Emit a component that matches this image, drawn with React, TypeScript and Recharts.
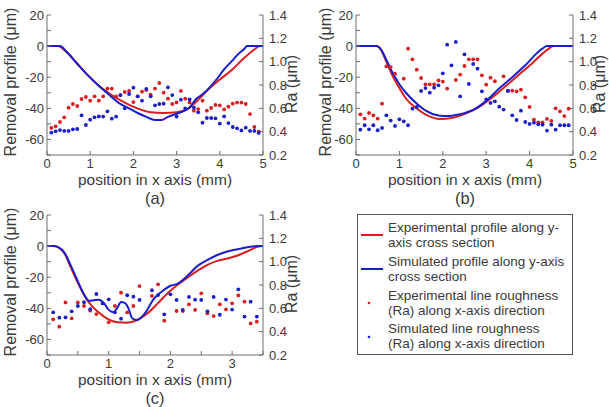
import React from "react";
import { ComposedChart, Line, Scatter, XAxis, YAxis } from "recharts";

// removal profile lines, (a)
const A_EXP_X = [0, 0.25, 0.46, 0.69, 0.92, 1.16, 1.47, 1.78, 2.09, 2.4, 2.7, 3.0, 3.25, 3.5, 3.71, 4.0, 4.29, 4.55, 4.8, 4.92, 5];
const A_EXP_Y = [0, 0, -4, -11, -18, -24.5, -31, -36, -40, -42.5, -43, -42.5, -40.5, -34.5, -28.5, -21.5, -15, -8, -2.2, 0, 0];
const A_SIM_X = [0, 0.3, 0.46, 0.69, 0.92, 1.16, 1.47, 1.66, 1.9, 2.1, 2.3, 2.5, 2.65, 2.8, 3.0, 3.15, 3.3, 3.45, 3.6, 3.75, 3.95, 4.1, 4.3, 4.45, 4.56, 4.63, 5];
const A_SIM_Y = [0, 0, -3.8, -11, -18, -24.5, -32, -36.5, -40, -43, -45.5, -47.5, -47.5, -45.5, -43.5, -42, -39.5, -34, -31, -27, -20.5, -15, -9, -4.5, -2, 0, 0];

// removal profile lines, (b)
const B_EXP_X = [0, 0.47, 0.55, 0.7, 0.85, 1.0, 1.16, 1.39, 1.62, 1.93, 2.23, 2.54, 2.85, 3.16, 3.46, 3.77, 4.08, 4.31, 4.45, 4.55, 5];
const B_EXP_Y = [0, 0, -1.5, -10, -19.6, -27, -34, -40, -44.2, -46.8, -46, -43.2, -38.9, -32.5, -25.5, -18, -10.5, -4.5, -1.5, 0, 0];
const B_SIM_X = [0, 0.48, 0.56, 0.7, 0.85, 1.0, 1.16, 1.39, 1.62, 1.93, 2.16, 2.39, 2.7, 3.0, 3.31, 3.62, 3.93, 4.15, 4.3, 4.4, 5];
const B_SIM_Y = [0, 0, -1.5, -8.9, -17.5, -24.5, -30.3, -36.7, -41.7, -44.7, -44.9, -43.8, -41, -35.2, -27, -19.5, -11.5, -5, -1.5, 0, 0];

// removal profile lines, (c)
const C_EXP_X = [0, 0.11, 0.28, 0.38, 0.49, 0.6, 0.71, 0.82, 0.98, 1.14, 1.3, 1.46, 1.63, 1.79, 1.95, 2.11, 2.28, 2.44, 2.6, 2.76, 2.92, 3.09, 3.25, 3.41, 3.5];
const C_EXP_Y = [0, 0, -4.6, -13.2, -22.8, -31.4, -37.8, -42.1, -46.8, -49, -49.2, -47.5, -43.2, -37, -30.5, -25, -20.2, -15.8, -12, -9.5, -8, -6, -3.3, -0.5, 0];
const C_SIM_X = [0, 0.11, 0.28, 0.38, 0.49, 0.6, 0.68, 0.76, 0.84, 0.92, 1.0, 1.08, 1.14, 1.2, 1.26, 1.32, 1.38, 1.46, 1.57, 1.74, 1.9, 2.0, 2.11, 2.28, 2.44, 2.6, 2.76, 2.92, 3.09, 3.25, 3.41, 3.5];
const C_SIM_Y = [0, 0, -4, -12.1, -21.7, -31, -35.2, -34.8, -34.5, -36.5, -41, -42.5, -39.5, -36, -36.5, -40, -46.4, -47.5, -44, -33.5, -28, -25.5, -24.3, -18.9, -12.7, -8.9, -5.7, -3.5, -2, -0.7, 0, 0];

// line roughness Ra points
const RA_X_AB = [0.1, 0.2, 0.3, 0.4, 0.5, 0.6, 0.7, 0.8, 0.9, 1.0, 1.1, 1.2, 1.3, 1.4, 1.5, 1.6, 1.7, 1.8, 1.9, 2.0, 2.1, 2.2, 2.3, 2.4, 2.5, 2.6, 2.7, 2.8, 2.9, 3.0, 3.1, 3.2, 3.3, 3.4, 3.5, 3.6, 3.7, 3.8, 3.9, 4.0, 4.1, 4.2, 4.3, 4.4, 4.5, 4.6, 4.7, 4.8, 4.9];
const A_EXP_RA = [0.432, 0.446, 0.483, 0.523, 0.606, 0.637, 0.62, 0.68, 0.697, 0.666, 0.703, 0.666, 0.703, 0.769, 0.769, 0.703, 0.714, 0.74, 0.749, 0.654, 0.703, 0.743, 0.757, 0.717, 0.769, 0.817, 0.734, 0.683, 0.637, 0.651, 0.749, 0.683, 0.651, 0.58, 0.594, 0.666, 0.58, 0.603, 0.629, 0.626, 0.591, 0.614, 0.64, 0.649, 0.649, 0.637, 0.551, 0.44, 0.4];
const A_SIM_RA = [0.392, 0.403, 0.414, 0.406, 0.406, 0.42, 0.423, 0.54, 0.457, 0.503, 0.523, 0.531, 0.529, 0.574, 0.511, 0.529, 0.714, 0.6, 0.723, 0.777, 0.703, 0.666, 0.766, 0.703, 0.626, 0.637, 0.64, 0.78, 0.714, 0.529, 0.674, 0.6, 0.677, 0.606, 0.566, 0.477, 0.517, 0.517, 0.514, 0.469, 0.531, 0.474, 0.44, 0.429, 0.411, 0.434, 0.406, 0.406, 0.389];
const B_EXP_RA = [0.549, 0.512, 0.56, 0.54, 0.512, 0.64, 0.96, 0.954, 0.897, null, 0.854, 1.111, 1.02, 0.931, 0.86, 0.806, 0.806, 0.806, 0.84, 0.829, 0.769, null, 0.843, 0.889, 0.963, 1.02, 1.02, 1.02, 0.883, 0.803, 0.863, 0.832, null, 0.874, 0.751, 0.751, 0.746, 0.76, 0.694, 0.612, 0.503, 0.48, 0.48, 0.509, 0.492, 0.6, 0.574, 0.534, 0.597];
const B_SIM_RA = [0.417, 0.455, 0.42, 0.455, 0.412, 0.432, 0.54, 0.495, 0.449, 0.506, 0.489, 0.455, 0.597, 0.612, 0.749, 0.774, 0.734, 0.777, 0.797, 0.9, 1.146, 0.969, 1.169, 0.703, 1.063, 0.809, 0.98, 0.94, 0.746, 0.677, 0.646, 0.66, 0.614, 0.589, 0.749, 0.54, 0.5, 0.58, 0.483, 0.466, 0.477, 0.463, 0.46, 0.409, 0.46, 0.417, 0.455, 0.455, 0.455];
const RA_X_C = [0.1, 0.2, 0.3, 0.4, 0.5, 0.6, 0.7, 0.8, 0.9, 1.0, 1.1, 1.2, 1.3, 1.4, 1.5, 1.6, 1.7, 1.8, 1.9, 2.0, 2.1, 2.2, 2.3, 2.4, 2.5, 2.6, 2.7, 2.8, 2.9, 3.0, 3.1, 3.2, 3.3, 3.4];
const C_EXP_RA = [0.506, 0.443, 0.651, 0.514, 0.651, 0.62, 0.58, 0.551, null, 0.48, 0.62, 0.734, 0.566, 0.62, 0.791, null, 0.706, 0.806, 0.494, null, 0.577, 0.577, 0.634, 0.586, 0.729, 0.557, 0.534, 0.634, 0.591, 0.643, 0.711, 0.657, 0.471, 0.486];
const C_SIM_RA = [0.566, 0.52, 0.523, 0.574, 0.62, 0.652, 0.592, 0.723, 0.642, 0.677, 0.566, 0.511, 0.712, 0.7, 0.672, null, 0.755, 0.714, 0.549, 0.72, 0.672, 0.587, 0.698, 0.674, 0.672, 0.574, 0.698, 0.545, 0.675, 0.589, 0.763, 0.529, 0.657, 0.529];

// axis ticks
const X_TICKS_5 = [0, 1, 2, 3, 4, 5];
const X_TICKS_C = [0, 0.5, 1, 1.5, 2, 2.5, 3, 3.5];
const PROFILE_TICKS = [20, 10, 0, -10, -20, -30, -40, -50, -60, -70];
const RA_TICKS = [0.2, 0.4, 0.6, 0.8, 1.0, 1.2, 1.4];

const RED = "#d81e1e";
const BLUE = "#1a1ec8";
const AXIS = "#6e6e6e";
const TEXT = "#3a3a3a";
const FONT = '"Liberation Sans", Arial, sans-serif';

type Pt = { x: number; y: number };
const zip = (xs: number[], ys: (number | null)[]): Pt[] =>
  xs.map((x, i) => ({ x, y: ys[i] as number })).filter((p) => p.y !== null);

const tickText = { fill: TEXT, fontSize: 13, fontFamily: FONT };

const XTick = (props: any) => {
  const { x, y, payload } = props;
  if (!Number.isInteger(payload.value)) return <g />;
  return (
    <text x={x} y={y + 12} dy="0.35em" textAnchor="middle" {...tickText}>
      {payload.value}
    </text>
  );
};

const LeftTick = (props: any) => {
  const { x, y, payload } = props;
  if (payload.value % 20 !== 0) return <g />;
  return (
    <text x={x - 7} y={y} dy="0.35em" textAnchor="end" {...tickText}>
      {payload.value}
    </text>
  );
};

const RightTick = (props: any) => {
  const { x, y, payload } = props;
  return (
    <text x={x + 10} y={y} dy="0.35em" textAnchor="start" {...tickText}>
      {Number(payload.value).toFixed(1)}
    </text>
  );
};

const dot = (color: string) => (p: any) => <circle cx={p.cx} cy={p.cy} r={1.9} fill={color} />;

interface PanelProps {
  left: number;
  top: number;
  plotW: number;
  xMax: number;
  xTicks: number[];
  expLine: Pt[];
  simLine: Pt[];
  expRa: Pt[];
  simRa: Pt[];
}

function Panel({ left, top, plotW, xMax, xTicks, expLine, simLine, expRa, simRa }: PanelProps) {
  return (
    <div style={{ position: "absolute", left, top }}>
      <ComposedChart width={47 + plotW + 38} height={210} margin={{ top: 15, right: 0, bottom: 0, left: 0 }}>
        <XAxis
          xAxisId="b"
          dataKey="x"
          type="number"
          domain={[0, xMax]}
          ticks={xTicks}
          interval={0}
          height={55}
          tickSize={-4}
          tickMargin={0}
          stroke={AXIS}
          tick={XTick}
          allowDataOverflow
        />
        <XAxis
          xAxisId="t"
          orientation="top"
          dataKey="x"
          type="number"
          domain={[0, xMax]}
          ticks={xTicks}
          interval={0}
          height={0}
          tickSize={-4}
          stroke={AXIS}
          tick={false}
          allowDataOverflow
        />
        <YAxis
          yAxisId="p"
          dataKey="y"
          type="number"
          domain={[-70, 20]}
          ticks={PROFILE_TICKS}
          interval={0}
          width={47}
          tickSize={-4}
          tickMargin={0}
          stroke={AXIS}
          tick={LeftTick}
          allowDataOverflow
        />
        <YAxis
          yAxisId="ra"
          orientation="right"
          dataKey="y"
          type="number"
          domain={[0.2, 1.4]}
          ticks={RA_TICKS}
          interval={0}
          width={38}
          tickSize={-4}
          tickMargin={0}
          stroke={AXIS}
          tick={RightTick}
          allowDataOverflow
        />
        <Scatter xAxisId="b" yAxisId="ra" data={expRa} dataKey="y" shape={dot(RED)} isAnimationActive={false} />
        <Scatter xAxisId="b" yAxisId="ra" data={simRa} dataKey="y" shape={dot(BLUE)} isAnimationActive={false} />
        <Line xAxisId="b" yAxisId="p" data={expLine} dataKey="y" type="monotone" stroke={RED} strokeWidth={2} dot={false} isAnimationActive={false} />
        <Line xAxisId="b" yAxisId="p" data={simLine} dataKey="y" type="monotone" stroke={BLUE} strokeWidth={2} dot={false} isAnimationActive={false} />
      </ComposedChart>
    </div>
  );
}

const labelStyle = { fill: TEXT, fontFamily: FONT };

function PanelText({ cx, top, yLabelX, raLabelX, tag }: { cx: number; top: number; yLabelX: number; raLabelX: number; tag: string }) {
  return (
    <g {...labelStyle}>
      <text x={yLabelX} y={top + 82} dy="0.35em" textAnchor="middle" fontSize={16} transform={`rotate(-90 ${yLabelX} ${top + 82})`}>
        Removal profile (μm)
      </text>
      <text x={raLabelX} y={top + 84} dy="0.35em" textAnchor="middle" fontSize={16} transform={`rotate(-90 ${raLabelX} ${top + 84})`}>
        Ra (μm)
      </text>
      <text x={cx} y={top + 180} dy="0.35em" textAnchor="middle" fontSize={15.5}>
        position in x axis (mm)
      </text>
      <text x={cx} y={top + 198} dy="0.35em" textAnchor="middle" fontSize={16.5}>
        {tag}
      </text>
    </g>
  );
}

export default function App() {
  return (
    <div style={{ position: "absolute", left: 0, top: 0, width: 609, height: 407, background: "#fff" }}>
      <Panel left={0} top={0} plotW={216} xMax={5} xTicks={X_TICKS_5}
        expLine={zip(A_EXP_X, A_EXP_Y)} simLine={zip(A_SIM_X, A_SIM_Y)}
        expRa={zip(RA_X_AB, A_EXP_RA)} simRa={zip(RA_X_AB, A_SIM_RA)} />
      <Panel left={309} top={0} plotW={217} xMax={5} xTicks={X_TICKS_5}
        expLine={zip(B_EXP_X, B_EXP_Y)} simLine={zip(B_SIM_X, B_SIM_Y)}
        expRa={zip(RA_X_AB, B_EXP_RA)} simRa={zip(RA_X_AB, B_SIM_RA)} />
      <Panel left={0} top={200} plotW={216} xMax={3.5} xTicks={X_TICKS_C}
        expLine={zip(C_EXP_X, C_EXP_Y)} simLine={zip(C_SIM_X, C_SIM_Y)}
        expRa={zip(RA_X_C, C_EXP_RA)} simRa={zip(RA_X_C, C_SIM_RA)} />
      <svg width={609} height={407} style={{ position: "absolute", left: 0, top: 0, pointerEvents: "none" }}>
        <PanelText cx={155} top={0} yLabelX={10} raLabelX={291} tag="(a)" />
        <PanelText cx={465} top={0} yLabelX={325} raLabelX={599} tag="(b)" />
        <PanelText cx={155} top={200} yLabelX={10} raLabelX={291} tag="(c)" />

        {/* Legend */}
        <rect x={357.5} y={214.5} width={215} height={140} fill="#fff" stroke="#555" strokeWidth={1} />
        <g fill={TEXT} fontFamily={FONT} fontSize={13.5}>
          <line x1={361} x2={383} y1={235} y2={235} stroke={RED} strokeWidth={2} />
          <text x={388} y={227.4} dy="0.35em">Experimental profile along y-</text>
          <text x={388} y={242.6} dy="0.35em">axis cross section</text>
          <line x1={361} x2={383} y1={269} y2={269} stroke={BLUE} strokeWidth={2} />
          <text x={388} y={261.4} dy="0.35em">Simulated profile along y-axis</text>
          <text x={388} y={276.6} dy="0.35em">cross section</text>
          <circle cx={369} cy={303} r={1.3} fill={RED} />
          <text x={388} y={295.4} dy="0.35em">Experimental line roughness</text>
          <text x={388} y={310.6} dy="0.35em">(Ra) along x-axis direction</text>
          <circle cx={369} cy={337} r={1.3} fill={BLUE} />
          <text x={388} y={328.4} dy="0.35em">Simulated line roughness</text>
          <text x={388} y={343.6} dy="0.35em">(Ra) along x-axis direction</text>
        </g>
      </svg>
    </div>
  );
}
